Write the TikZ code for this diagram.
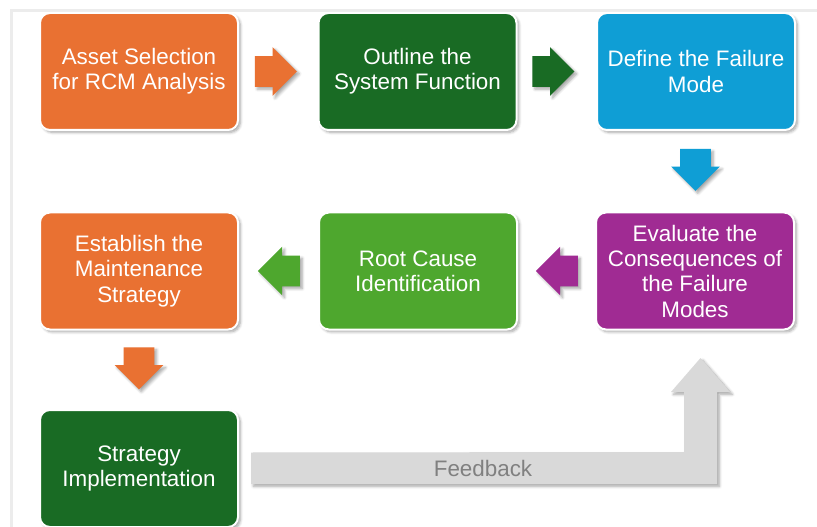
\documentclass[tikz,border=0pt]{standalone}
\usepackage{fontspec}
\setmainfont{Liberation Sans}
\usetikzlibrary{shapes.arrows,shadows.blur,calc}
\definecolor{corange}{HTML}{E97132}
\definecolor{cdgreen}{HTML}{196B24}
\definecolor{cblue}{HTML}{0F9ED5}
\definecolor{cpurple}{HTML}{A02B93}
\definecolor{clgreen}{HTML}{4EA72E}
\definecolor{fbgray}{HTML}{D9D9D9}
\definecolor{fbtext}{HTML}{808080}
\definecolor{framecol}{HTML}{ECECEC}
\begin{document}
\begin{tikzpicture}[x=0.75pt,y=-0.75pt,
  myshadow/.style={blur shadow={shadow xshift=1.8pt, shadow yshift=-1.8pt, shadow blur steps=6, shadow blur radius=2pt, shadow opacity=35}},
  box/.style={rounded corners=7.5pt, minimum width=148.5pt, minimum height=87.75pt,
    draw=white, line width=1.5pt, text=white, align=center, inner sep=0pt,
    font=\fontsize{16.8}{19}\selectfont, myshadow},
  blockarrow/.style={single arrow, minimum height=31.5pt, inner xsep=0pt, inner ysep=11.25pt,
    single arrow head extend=6.75pt, myshadow},
  downarrow/.style={single arrow, shape border rotate=270, minimum height=31.5pt,
    inner xsep=11.25pt, inner ysep=0pt, single arrow head extend=6.75pt, myshadow},
  lbl/.style={font=\fontsize{16.8}{19}\selectfont, text=fbtext}
]
\useasboundingbox (0,0) rectangle (817,527);
% frame
\draw[framecol, line width=2.2pt] (11.5,527) -- (11.5,10.5) -- (817,10.5);

% boxes
\node[box, fill=corange] (b1) at (139,71.5) {Asset Selection\\for RCM Analysis};
\node[box, fill=cdgreen] (b2) at (417.5,71.5) {Outline the\\System Function};
\node[box, fill=cblue]   (b3) at (696,71.5) {Define the Failure\\Mode};
\node[box, fill=cpurple] (b4) at (695,271) {Evaluate the\\Consequences of\\the Failure\\Modes};
\node[box, fill=clgreen] (b5) at (418,271) {Root Cause\\Identification};
\node[box, fill=corange] (b6) at (139,271) {Establish the\\Maintenance\\Strategy};
\node[box, fill=cdgreen] (b7) at (139,468.5) {Strategy\\Implementation};

% block arrows
\node[blockarrow, fill=corange] (a1) at ($(b1.east)!0.5!(b2.west)+(-10,0)$) {};
\node[blockarrow, fill=cdgreen] (a2) at ($(b2.east)!0.5!(b3.west)+(-11,0)$) {};
\node[downarrow, fill=cblue] (a3) at ($(b3.south)!0.5!(b4.north)+(0,-9)$) {};
\node[blockarrow, fill=cpurple, shape border rotate=180] (a4) at ($(b4.west)!0.5!(b5.east)+(8,0)$) {};
\node[blockarrow, fill=clgreen, shape border rotate=180] (a5) at ($(b5.west)!0.5!(b6.east)+(8,0)$) {};
\node[downarrow, fill=corange] (a6) at ($(b6.south)!0.5!(b7.north)+(0,-9)$) {};

% feedback elbow arrow
\coordinate (fs) at ($(b7.east)+(12,0)$);
\coordinate (fu) at (700.5,358);
\fill[fbgray, myshadow]
  ($(fs)+(0,-16)$) -- (684,452) -- (684,392) -- (671,392) -- (fu)
  -- (730,392) -- (717,392) -- (717,484) -- ($(fs)+(0,15.5)$) -- cycle;
\node[lbl] (fb) at (483,468) {Feedback};
\end{tikzpicture}
\end{document}
